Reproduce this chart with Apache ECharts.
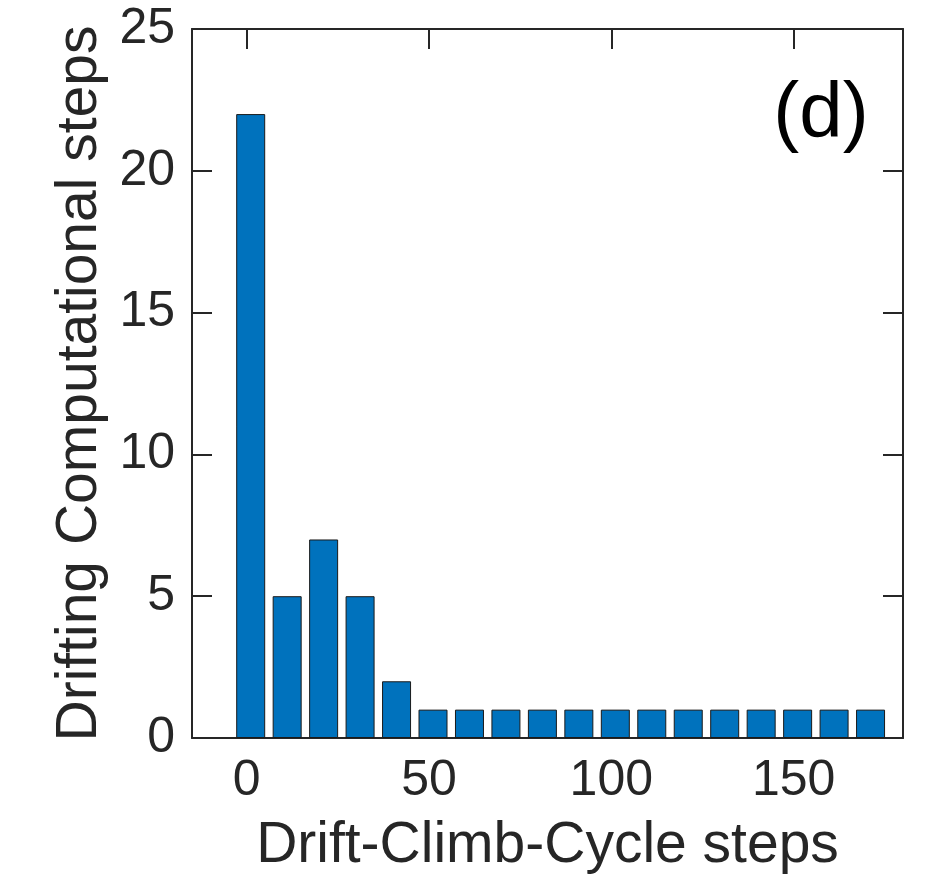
<!DOCTYPE html>
<html style="height: 100%">
   <head>
       <meta charset="utf-8">
   </head>
   <body style="height: 100%; margin: 0; background: #fff">
       <div id="container" style="width: 945px; height: 880px"></div>
       <script type="text/javascript" src="https://cdn.jsdelivr.net/npm/echarts@6/dist/echarts.min.js"></script>
       <script type="text/javascript">
// histogram of drift-climb-cycle steps, panel (d)
// bin centres sit slightly right of the round numbers in the original
var cycleSteps = [1.1, 11.1, 21.1, 31.1, 41.1, 51.1, 61.1, 71.1, 81.1, 91.1, 101.1, 111.1, 121.1, 131.1, 141.1, 151.1, 161.1, 171.1];
var driftCounts = [22, 5, 7, 5, 2, 1, 1, 1, 1, 1, 1, 1, 1, 1, 1, 1, 1, 1];
var xTicks = [0, 50, 100, 150];
var panelLabel = '(d)';

var ink = '#262626';
var font = 'Liberation Sans, Arial, Helvetica, sans-serif';

var dom = document.getElementById("container");
var myChart = echarts.init(dom);

var barData = [];
for (var i = 0; i < cycleSteps.length; i++) {
    barData.push([cycleSteps[i], driftCounts[i]]);
}

var frameLine = { show: true, onZero: false, lineStyle: { color: ink, width: 2 } };
var innerTick = { show: true, inside: true, length: 20, lineStyle: { color: ink, width: 2 } };

option = {
    backgroundColor: '#fff',
    animation: false,
    grid: {
        left: 192,
        top: 29,
        right: 42,
        bottom: 140
    },
    xAxis: [{
        type: 'value',
        position: 'bottom',
        min: -15,
        max: 180,
        axisLine: frameLine,
        axisTick: Object.assign({ customValues: xTicks }, innerTick),
        axisLabel: {
            customValues: xTicks,
            color: ink,
            fontSize: 50,
            fontFamily: font,
            margin: 18
        },
        splitLine: { show: false },
        name: 'Drift-Climb-Cycle steps',
        nameLocation: 'middle',
        nameGap: 80,
        nameTextStyle: { color: ink, fontSize: 57, fontFamily: font }
    }, {
        type: 'value',
        position: 'top',
        min: -15,
        max: 180,
        axisLine: frameLine,
        axisTick: Object.assign({ customValues: xTicks }, innerTick),
        axisLabel: { show: false, customValues: xTicks },
        splitLine: { show: false }
    }],
    yAxis: [{
        type: 'value',
        position: 'left',
        min: 0,
        max: 25,
        interval: 5,
        axisLine: frameLine,
        axisTick: innerTick,
        axisLabel: {
            color: ink,
            fontSize: 50,
            fontFamily: font,
            margin: 17
        },
        splitLine: { show: false },
        name: 'Drifting Computational steps',
        nameLocation: 'middle',
        nameGap: 80,
        nameTextStyle: { color: ink, fontSize: 57, fontFamily: font }
    }, {
        type: 'value',
        position: 'right',
        min: 0,
        max: 25,
        interval: 5,
        axisLine: frameLine,
        axisTick: innerTick,
        axisLabel: { show: false },
        splitLine: { show: false }
    }],
    graphic: [{
        type: 'text',
        style: {
            x: 821,
            y: 115,
            text: panelLabel,
            align: 'center',
            verticalAlign: 'middle',
            fill: '#000',
            font: '78px ' + font
        }
    }],
    series: [{
        type: 'bar',
        xAxisIndex: 0,
        yAxisIndex: 0,
        data: barData,
        barWidth: 29,
        itemStyle: {
            color: '#0072BD',
            borderColor: '#1a1a1a',
            borderWidth: 1
        },
        z: 1
    }]
};

myChart.setOption(option, true);
       </script>
   </body>
</html>
